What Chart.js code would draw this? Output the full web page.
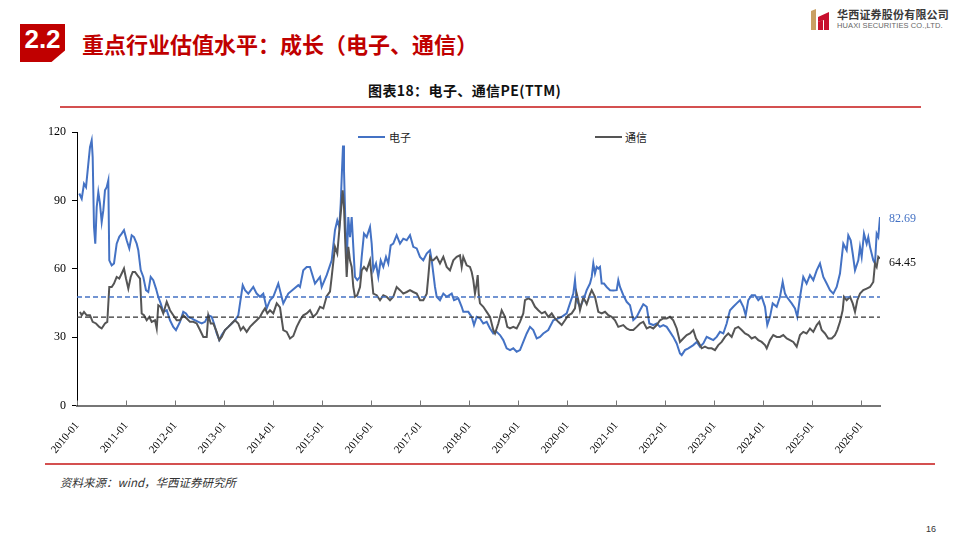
<!DOCTYPE html>
<html><head><meta charset="utf-8">
<script src="https://cdn.jsdelivr.net/npm/chart.js@4.4.1/dist/chart.umd.min.js"></script>
<style>
html,body{margin:0;padding:0;background:#fff;}
body{width:960px;height:540px;position:relative;overflow:hidden;font-family:"Noto Sans CJK SC","Noto Sans",sans-serif;}
#c{position:absolute;left:0;top:0;}
.abs{position:absolute;white-space:nowrap;}
#secbox{left:20px;top:24px;width:45px;height:38px;background:#C00000;clip-path:polygon(0 0,100% 0,100% 70%,70% 100%,0 100%);}
#secnum{left:20px;top:24px;width:45px;height:38px;line-height:38px;text-align:center;color:#fff;font:bold 26px "Liberation Sans",Arial,sans-serif;}
#head{left:82px;top:28px;color:#C00000;font-weight:bold;font-size:22px;line-height:30px;}
#logoT1{left:837px;top:7px;font-size:11px;font-weight:bold;color:#3a3a3a;letter-spacing:0.2px;line-height:14px;}
#logoT2{left:837px;top:21px;font:7.5px "Liberation Sans",Arial,sans-serif;color:#666;line-height:9px;letter-spacing:0.1px;}
#title{left:368px;top:80px;font-size:14px;font-weight:bold;color:#111;line-height:20px;letter-spacing:0.4px;}
.rline{height:2px;background:#D45050;}
#src{left:60px;top:473px;font-size:11.5px;font-style:italic;color:#333;line-height:18px;}
#page{left:926px;top:524px;font:9px "Liberation Sans",Arial,sans-serif;color:#333;}
.lg{font-size:11px;color:#222;line-height:14px;}
.lgline{height:2px;}
</style></head><body>
<div id="secbox" class="abs"></div>
<div id="secnum" class="abs">2.2</div>
<div id="head" class="abs">重点行业估值水平：成长（电子、通信）</div>
<svg class="abs" style="left:810px;top:8px" width="20" height="23" viewBox="0 0 20 23">
  <polygon points="1,3 6,1 6,22 1,22" fill="#C9A063"/>
  <polygon points="8,9 19,4 19,22 14,22 14,12 8,14" fill="#C8102E"/>
  <polygon points="8,14 13,12 13,22 8,22" fill="#C8102E"/>
</svg>
<div id="logoT1" class="abs">华西证券股份有限公司</div>
<div id="logoT2" class="abs">HUAXI SECURITIES CO.,LTD.</div>
<div id="title" class="abs">图表18：电子、通信PE(TTM)</div>
<div class="abs rline" style="left:60px;top:106px;width:861px;"></div>
<div class="abs lgline" style="left:358px;top:136px;width:27px;background:#4472C4;"></div>
<div class="abs lg" style="left:389px;top:130px;">电子</div>
<div class="abs lgline" style="left:595px;top:136px;width:27px;background:#555555;"></div>
<div class="abs lg" style="left:625px;top:130px;">通信</div>
<div class="abs rline" style="left:45px;top:463px;width:890px;"></div>
<div id="src" class="abs">资料来源：wind，华西证券研究所</div>
<div id="page" class="abs">16</div>
<canvas id="c" width="960" height="540"></canvas>
<script>
// ---- data (decimal year, PE TTM) ----
const dianziX = [2010.047,2010.096,2010.143,2010.184,2010.231,2010.265,2010.300,2010.320,2010.347,2010.373,2010.402,2010.435,2010.469,2010.504,2010.537,2010.571,2010.606,2010.639,2010.659,2010.708,2010.755,2010.810,2010.863,2010.912,2010.959,2011.014,2011.067,2011.116,2011.163,2011.218,2011.251,2011.300,2011.353,2011.408,2011.455,2011.504,2011.557,2011.612,2011.659,2011.708,2011.761,2011.831,2011.898,2011.965,2012.020,2012.102,2012.169,2012.224,2012.271,2012.341,2012.408,2012.476,2012.545,2012.612,2012.680,2012.749,2012.796,2012.851,2012.904,2012.953,2013.020,2013.088,2013.157,2013.224,2013.292,2013.327,2013.382,2013.429,2013.496,2013.598,2013.667,2013.735,2013.802,2013.871,2013.939,2014.006,2014.108,2014.210,2014.312,2014.516,2014.551,2014.618,2014.688,2014.755,2014.857,2014.959,2014.994,2015.096,2015.198,2015.265,2015.312,2015.353,2015.382,2015.408,2015.429,2015.449,2015.476,2015.504,2015.537,2015.571,2015.606,2015.639,2015.673,2015.720,2015.776,2015.810,2015.857,2015.912,2015.980,2016.014,2016.047,2016.102,2016.149,2016.198,2016.251,2016.306,2016.353,2016.402,2016.455,2016.524,2016.592,2016.659,2016.729,2016.796,2016.863,2016.933,2017.000,2017.067,2017.137,2017.204,2017.239,2017.306,2017.341,2017.408,2017.476,2017.545,2017.647,2017.694,2017.782,2017.851,2017.884,2017.986,2018.055,2018.102,2018.157,2018.224,2018.292,2018.361,2018.429,2018.496,2018.565,2018.633,2018.700,2018.769,2018.837,2018.904,2018.973,2019.041,2019.108,2019.178,2019.245,2019.312,2019.382,2019.449,2019.516,2019.618,2019.720,2019.822,2019.892,2019.994,2020.061,2020.129,2020.163,2020.198,2020.265,2020.333,2020.402,2020.469,2020.504,2020.537,2020.571,2020.606,2020.639,2020.673,2020.708,2020.755,2020.810,2020.878,2020.945,2021.014,2021.047,2021.082,2021.149,2021.218,2021.286,2021.353,2021.422,2021.490,2021.557,2021.627,2021.680,2021.761,2021.831,2021.898,2021.965,2022.035,2022.102,2022.169,2022.239,2022.306,2022.341,2022.408,2022.476,2022.578,2022.647,2022.714,2022.782,2022.851,2022.918,2022.986,2023.055,2023.122,2023.190,2023.259,2023.292,2023.327,2023.394,2023.463,2023.531,2023.598,2023.647,2023.700,2023.769,2023.837,2023.904,2023.973,2024.041,2024.088,2024.143,2024.198,2024.280,2024.347,2024.402,2024.449,2024.484,2024.586,2024.653,2024.700,2024.755,2024.822,2024.890,2024.959,2025.027,2025.096,2025.163,2025.231,2025.300,2025.367,2025.435,2025.504,2025.571,2025.639,2025.708,2025.741,2025.790,2025.831,2025.878,2025.945,2025.980,2026.014,2026.061,2026.116,2026.149,2026.184,2026.251,2026.286,2026.320,2026.353,2026.388];
const dianziPE = [93.0,90.7,97.3,95.8,106,113.3,116.3,109,78.3,71,87,93.6,88.6,80.5,85.6,94.4,95.8,98.8,63.7,61.5,62.3,71,74,75.4,76.9,72.5,68.9,74.7,73.9,71,68.1,59.4,56.4,50.6,49.8,56.4,55,51.3,47.6,44.8,41.1,41.8,37.4,34.5,33.1,36.7,41.1,40.4,38.9,38.2,37.4,36.7,36,36.7,39.6,38.9,36,31.6,28.7,30.9,33.1,34.5,36,37.4,39.6,44.8,52.8,50.6,49.1,52,49.1,47.7,49.1,42.6,46.2,47.7,53.5,44.8,49.1,52.8,52,59.3,60.8,60.8,53.5,56.4,52,57.2,63.7,76.9,81.2,78.3,88.6,103.2,114.1,103.2,81.2,62.3,82.7,73.9,82.7,69.6,56.4,55,56.4,65.2,75.4,73.9,78.3,71,59.3,62.3,56.4,63.7,60.8,65.2,62.3,70.3,71,74.7,71,73.2,72.5,74.7,69.6,68.9,65.2,63.7,66.7,68.1,63.7,52,47.7,46.2,49.1,47.7,49.1,46.2,47,43.3,41.1,41.1,38.9,35.3,38.9,38.2,36,36.7,33.8,31.6,32.3,30.9,28.7,25.1,24.3,25.1,23.6,24.3,27.9,31.6,34.5,33.1,29.4,30.1,31.6,33.1,37.4,38.2,38.9,40.4,44.8,49.1,55,46.2,43.3,46.2,50.6,53.5,56.4,62.3,57.9,60.8,60.1,60.8,53.5,53.5,52,50.6,50.5,50.6,55,52,48.4,45.5,44,37.5,38.9,41.8,44.4,43.3,36,35.3,36,34.5,35.3,34.5,32.3,30.1,27.2,22.8,22.1,24.3,25.1,26.5,27.9,25.8,27.2,30.1,29.4,28.7,30.1,32.3,31.6,36,38.9,41.8,43.3,44.8,46.2,43.3,39.6,46.2,48.4,48.4,46.2,47.7,43.3,35.3,38.9,44.8,43.3,47.7,54.2,49.1,47.7,44.8,42.6,38.9,47.5,56.4,53.5,57.2,55,59.3,62.3,56.4,53.5,50.6,49.1,52,57.9,71,68.1,74.7,72.5,66.7,59.3,63.7,69.6,65.2,75.4,71,73.9,69.6,63.7,62.3,75.4,73.9,82.69];

const tongxinX = [2010.061,2010.096,2010.143,2010.198,2010.265,2010.320,2010.388,2010.455,2010.504,2010.571,2010.618,2010.659,2010.708,2010.755,2010.810,2010.863,2010.912,2010.959,2011.000,2011.047,2011.096,2011.137,2011.184,2011.231,2011.286,2011.320,2011.367,2011.422,2011.476,2011.524,2011.592,2011.627,2011.659,2011.708,2011.761,2011.831,2011.898,2011.965,2012.035,2012.102,2012.169,2012.239,2012.306,2012.373,2012.443,2012.510,2012.578,2012.647,2012.680,2012.729,2012.782,2012.851,2012.904,2012.953,2013.020,2013.088,2013.157,2013.224,2013.292,2013.341,2013.394,2013.463,2013.531,2013.598,2013.667,2013.735,2013.790,2013.837,2013.884,2013.939,2014.006,2014.076,2014.143,2014.210,2014.280,2014.347,2014.414,2014.484,2014.551,2014.618,2014.688,2014.755,2014.822,2014.892,2014.959,2015.027,2015.096,2015.163,2015.198,2015.265,2015.312,2015.353,2015.394,2015.422,2015.449,2015.476,2015.504,2015.537,2015.571,2015.606,2015.639,2015.673,2015.720,2015.776,2015.810,2015.857,2015.912,2015.980,2016.014,2016.047,2016.116,2016.184,2016.251,2016.320,2016.388,2016.455,2016.524,2016.592,2016.659,2016.729,2016.796,2016.863,2016.933,2017.000,2017.067,2017.137,2017.169,2017.204,2017.239,2017.271,2017.341,2017.408,2017.476,2017.545,2017.612,2017.680,2017.749,2017.816,2017.851,2017.884,2017.953,2018.020,2018.055,2018.088,2018.122,2018.157,2018.178,2018.198,2018.224,2018.292,2018.361,2018.429,2018.496,2018.531,2018.598,2018.667,2018.735,2018.782,2018.837,2018.904,2018.973,2019.041,2019.108,2019.143,2019.210,2019.280,2019.347,2019.414,2019.484,2019.551,2019.618,2019.688,2019.755,2019.822,2019.892,2019.959,2020.027,2020.096,2020.163,2020.198,2020.231,2020.265,2020.333,2020.402,2020.469,2020.504,2020.571,2020.639,2020.708,2020.776,2020.843,2020.912,2020.980,2021.047,2021.149,2021.218,2021.286,2021.353,2021.422,2021.490,2021.557,2021.627,2021.694,2021.761,2021.831,2021.898,2021.965,2022.035,2022.102,2022.169,2022.239,2022.306,2022.373,2022.443,2022.510,2022.578,2022.633,2022.680,2022.749,2022.816,2022.884,2022.953,2023.020,2023.088,2023.157,2023.224,2023.292,2023.361,2023.429,2023.496,2023.565,2023.633,2023.700,2023.769,2023.837,2023.904,2023.973,2024.041,2024.076,2024.143,2024.210,2024.280,2024.347,2024.414,2024.484,2024.551,2024.618,2024.688,2024.755,2024.822,2024.890,2024.959,2025.027,2025.096,2025.149,2025.198,2025.265,2025.333,2025.402,2025.469,2025.516,2025.571,2025.626,2025.653,2025.708,2025.776,2025.831,2025.878,2025.925,2025.980,2026.047,2026.116,2026.184,2026.251,2026.286,2026.320,2026.353,2026.388];
const tongxinPE = [41.1,39.6,41.1,39.6,39.6,36.7,36,34.5,33.8,36,36.7,52,52,53.5,56.4,55.7,57.9,60.1,55.7,51.3,56.4,58.6,58.6,57.2,55.7,40.4,39.6,37.4,38.9,36.7,37.4,33.8,44,43.3,40.4,45.5,41.8,39.6,37.4,37.4,39.6,38.2,36.7,36.7,36,33.1,30.1,30.1,39.6,36,36,32.3,28.7,30.1,33.1,34.5,36,37.4,36,33.1,34.5,32.3,34.5,36,37.4,38.9,41.1,42.6,40.4,41.8,40.4,44.8,43,33.1,32.3,29.4,30.5,34.5,37.4,39.6,40.4,41.8,38.9,40.4,43.3,42.6,48,50,56.4,69.6,66.7,76.9,87.1,94.4,87.1,71,56.4,69.6,63.7,60.8,52,47.7,48.4,52,59.3,60.8,59.3,63.7,56.4,49.1,48.4,46.2,48.4,47.7,46.2,47.7,52,50.6,49.1,49.8,50.6,49.8,49.1,46.2,46.2,49.1,56.4,65.2,63.7,63.7,65.2,62.3,65.2,60.8,59.3,63.7,65.2,65.9,60.8,65.2,61.5,60.8,58.6,55,49.1,53.5,57.2,49.1,44.8,43.3,41.1,38.9,33.1,31.6,36,41.8,38.9,34.5,33.8,34.5,33.8,36.7,40.4,46.2,47,46.2,43.3,41.8,40.4,41.1,38.9,40.4,38.2,36.7,35.3,37.4,39.6,40.4,42.6,49.1,46.2,41.8,47.5,44.5,48.8,50.6,47.7,41.1,40.4,41.1,39.6,38.9,37.4,34.5,35.3,33.8,33.1,33.1,34.5,36,36.7,33.8,34.5,33.8,35.3,37.4,38.2,38.2,38.9,37.4,33.8,27.9,29.4,30.9,31.6,33.1,29.4,27.9,25.1,25.8,25.1,25.1,24.3,26.5,27.9,30.1,31.6,30.1,33.8,34.5,33.1,31.6,30.9,29.4,30.1,28.7,27.9,26.5,25.1,28.7,30.9,30.1,30.1,30.9,29.4,28.7,27.9,25.8,30.9,32.3,31.6,33.8,32.3,35.3,36.7,33.1,31.6,29.4,29.4,30.9,33.1,36.7,41.8,47.7,46.2,47.7,44.8,41.1,46.2,49.1,50.6,51.3,52,54.2,62.3,60.8,65.2,64.45];

const seriesNames = ['电子', '通信'];
const meanDianzi = 47.6;   // 电子 average line
const meanTongxin = 38.8;  // 通信 average line
const yearTicks = [2010,2011,2012,2013,2014,2015,2016,2017,2018,2019,2020,2021,2022,2023,2024,2025,2026];
const tickLabels = ['2010-01','2011-01','2012-01','2013-01','2014-01','2015-01','2016-01','2017-01','2018-01','2019-01','2020-01','2021-01','2022-01','2023-01','2024-01','2025-01','2026-01'];
const xMin = 2010, xMax = 2026.388;

const BLUE = '#4472C4', GRAY = '#555555';
const toPts = (xs, ys) => xs.slice(0, Math.min(xs.length, ys.length)).map((x, i) => ({x, y: ys[i]}));

const innerTicks = {
  id: 'innerTicks',
  afterDraw(chart) {
    const {ctx, scales: {x}, chartArea} = chart;
    ctx.save();
    ctx.strokeStyle = '#767676';
    ctx.lineWidth = 1;
    yearTicks.forEach(v => {
      const px = Math.round(x.getPixelForValue(v)) + 0.5;
      ctx.beginPath();
      ctx.moveTo(px, chartArea.bottom);
      ctx.lineTo(px, chartArea.bottom - 5);
      ctx.stroke();
    });
    ctx.restore();
  }
};
const endLabels = {
  id: 'endLabels',
  afterDatasetsDraw(chart) {
    const {ctx, chartArea} = chart;
    const cfg = [{i: 0, color: BLUE, dy: 1.5}, {i: 1, color: '#111', dy: 4.5}];
    ctx.save();
    ctx.font = '12px "Liberation Serif", "Times New Roman", serif';
    ctx.textAlign = 'left';
    ctx.textBaseline = 'middle';
    cfg.forEach(c => {
      const meta = chart.getDatasetMeta(c.i);
      const pt = meta.data[meta.data.length - 1];
      const ds = chart.data.datasets[c.i].data;
      const val = ds[ds.length - 1].y;
      ctx.fillStyle = c.color;
      ctx.fillText(val.toFixed(2), chartArea.right + 9, pt.y + c.dy);
    });
    ctx.restore();
  }
};

new Chart(document.getElementById('c'), {
  type: 'line',
  data: {
    datasets: [
      {label: seriesNames[0], data: toPts(dianziX, dianziPE), borderColor: BLUE, borderWidth: 2, pointRadius: 0, tension: 0, order: 2},
      {label: seriesNames[1], data: toPts(tongxinX, tongxinPE), borderColor: GRAY, borderWidth: 2, pointRadius: 0, tension: 0, order: 1},
      {label: '电子均值', data: [{x: xMin, y: meanDianzi}, {x: xMax, y: meanDianzi}], borderColor: BLUE, borderWidth: 1.3, borderDash: [5, 3], pointRadius: 0, order: 0},
      {label: '通信均值', data: [{x: xMin, y: meanTongxin}, {x: xMax, y: meanTongxin}], borderColor: '#333333', borderWidth: 1.2, borderDash: [5, 3], pointRadius: 0, order: 0}
    ]
  },
  options: {
    responsive: false,
    animation: false,
    events: [],
    layout: {padding: {left: 17, right: 80, top: 132, bottom: 74.5}},
    plugins: {legend: {display: false}, tooltip: {enabled: false}, title: {display: false}},
    scales: {
      x: {
        type: 'linear', min: xMin, max: xMax,
        afterBuildTicks: s => { s.ticks = yearTicks.map(v => ({value: v})); },
        afterFit: s => { s.height = 60; },
        ticks: {
          autoSkip: false, minRotation: 50, maxRotation: 50, padding: 14,
          color: '#000', font: {family: '"Liberation Serif", "Times New Roman", serif', size: 11},
          callback: v => tickLabels[yearTicks.indexOf(v)] || ''
        },
        grid: {drawOnChartArea: false, drawTicks: false},
        border: {display: true, color: '#767676', width: 2}
      },
      y: {
        min: 0, max: 120,
        afterFit: s => { s.width = 60; },
        ticks: {stepSize: 30, padding: 6, color: '#000', font: {family: '"Liberation Serif", "Times New Roman", serif', size: 12}},
        grid: {drawOnChartArea: false, drawTicks: true, tickLength: 5, color: '#000'},
        border: {display: true, color: '#000', width: 1}
      }
    }
  },
  plugins: [innerTicks, endLabels]
});
</script>
</body></html>
